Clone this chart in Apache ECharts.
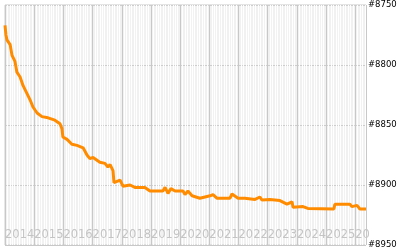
<!DOCTYPE html>
<html>
<head>
<meta charset="utf-8">
<script src="https://cdn.jsdelivr.net/npm/echarts@6/dist/echarts.min.js"></script>
<style>html,body{margin:0;padding:0;background:#fff}#c{width:400px;height:250px}</style>
</head>
<body>
<div id="c"></div>
<script>
// months since Jan 2014
const months = [0,0.4,0.8,2.1,2.9,4.1,4.9,6.2,7.4,8.6,10.3,11.5,13.2,15.2,17.7,20.5,22.6,23.4,23.8,25.5,27.5,29.6,32.1,33.7,34.9,36.2,39.0,41.1,42.3,43.2,44.4,44.8,47.3,48.5,51.4,53.4,57.5,59.6,64.9,65.8,67.0,68.2,69.9,73.2,74.0,75.2,76.9,80.1,82.2,84.3,85.5,87.1,92.5,93.3,95.8,96.6,98.6,102.8,104.8,105.6,108.9,113.0,115.9,118.0,118.4,122.5,123.3,124.5,135.2,135.6,141.8,142.6,144.7,145.9,148.4];
const ranks = [8767,8775,8779,8783,8792,8797,8806,8810,8817,8822,8829,8835,8840,8843,8844,8846,8849,8853,8860,8862,8866,8867,8869,8875,8878,8877,8881,8882,8885,8883,8888,8898,8896,8901,8900,8902,8902,8905,8905,8902,8907,8903,8905,8905,8908,8905,8909,8911,8910,8909,8908,8911,8911,8907.5,8911,8912.5,8911,8912,8910,8912.5,8912,8913,8916,8914,8918.5,8918,8917,8919.5,8920,8916,8916,8918,8917,8920,8920];
const startYear = 2014;
const yTicks = [8750, 8800, 8850, 8900, 8950];
const xMax = 148.4;

const chart = echarts.init(document.getElementById('c'), null, {renderer:'canvas'});
chart.setOption({
  animation: false,
  grid: {left: 5, top: 5, right: 34, bottom: 5, show: true, backgroundColor: '#f0f0f0', borderColor: '#c8c8c8', borderWidth: 1},
  xAxis: [
    {type: 'value', position: 'bottom', min: 0, max: xMax, interval: 1,
     axisLine: {show: false, onZero: false}, axisTick: {show: false}, axisLabel: {show: false},
     splitLine: {show: true, lineStyle: {color: '#ffffff', width: 1.2}}},
    {type: 'value', position: 'bottom', min: 0, max: xMax, interval: 12,
     axisLine: {show: false, onZero: false}, axisTick: {show: false},
     axisLabel: {show: true, inside: true, margin: 4, align: 'left', color: '#c4c4c4',
       fontFamily: 'DejaVu Sans', fontSize: 11.5,
       formatter: v => (v % 12 === 0 && v < 144) ? String(startYear + v / 12) : (v === 144 ? '20' : '')},
     splitLine: {show: true, lineStyle: {color: '#c8c8c8', width: 1}}}
  ],
  yAxis: {type: 'value', position: 'right', inverse: true, min: yTicks[0], max: yTicks[yTicks.length-1], interval: 50,
    axisLine: {show: false}, axisTick: {show: false},
    axisLabel: {margin: 2, color: '#000', fontFamily: 'DejaVu Sans', fontSize: 8.5, formatter: v => '#' + v},
    splitLine: {show: true, lineStyle: {color: '#c8c8c8', width: 1}}},
  series: [{
    type: 'line', xAxisIndex: 0, showSymbol: false,
    data: months.map((m, i) => [m, ranks[i]]),
    lineStyle: {color: '#ff8c00', width: 3}
  }]
});
</script>
</body>
</html>
